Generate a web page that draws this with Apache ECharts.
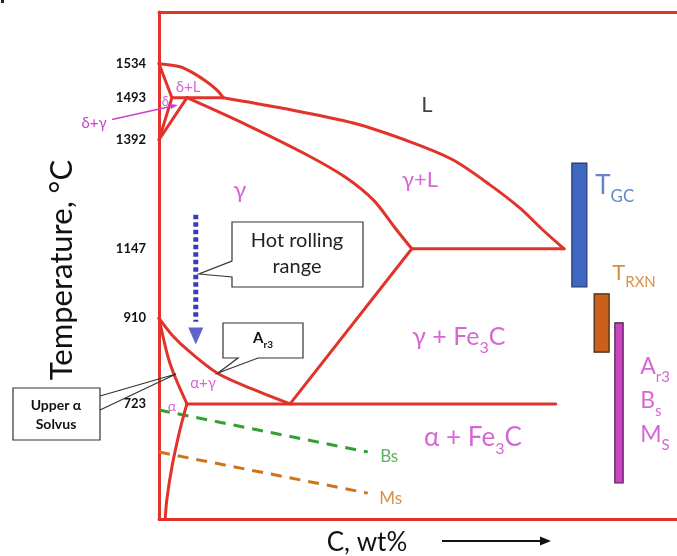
<!DOCTYPE html>
<html>
<head>
<meta charset="utf-8">
<script src="https://cdn.jsdelivr.net/npm/echarts@6/dist/echarts.min.js"></script>
<style>
html, body { margin: 0; padding: 0; background: #ffffff; }
#chart { width: 677px; height: 556px; }
</style>
</head>
<body>
<div id="chart"></div>
<script>
// Schematic iron–carbon diagram. Both axes use diagram units (0–100):
// x is carbon content, y is temperature, with the key isotherms labelled.
const tempLabels = ['1534', '1493', '1392', '1147', '910', '723'];
const tempLevels = [89.8, 83.1, 74.8, 53.3, 39.6, 22.7];

// Phase boundaries
const deltaLiquidus = [[0, 89.8], [4.05, 89.2], [6.56, 88.0], [9.27, 86.2], [11.2, 84.6], [12.4, 83.1]];
const deltaSolidus = [[0, 89.8], [2.5, 83.1]];
const peritecticLine = [[2.5, 83.1], [12.4, 83.1]];
const deltaSolvus = [[2.5, 83.1], [0, 74.8]];
const gammaDeltaBoundary = [[5.4, 83.1], [0, 74.8]];
const gammaLiquidus = [[12.4, 83.1], [23.4, 81.1], [37.5, 78.1], [49.0, 74.2], [56.8, 70.8], [63.9, 65.9], [69.7, 61.3], [74.1, 57.0], [78.2, 53.3]];
const gammaSolidus = [[5.4, 83.1], [17.0, 77.7], [28.6, 71.8], [36.0, 67.4], [41.5, 62.8], [45.5, 57.5], [48.8, 53.3]];
const eutecticLine = [[48.8, 53.3], [78.2, 53.3]];
const acmLine = [[48.8, 53.3], [25.3, 22.7]];
const a3Line = [[0, 39.6], [2.5, 36.3], [6.0, 32.9], [11.2, 28.8], [17.6, 25.8], [25.3, 22.7]];
const alphaBoundary = [[0, 39.6], [1.7, 32.1], [3.1, 28.0], [5.4, 22.7]];
const alphaSolvus = [[5.4, 22.7], [5.0, 21.3], [3.9, 17.0], [2.5, 10.3], [1.5, 3.7], [1.2, 0]];
const eutectoidLine = [[5.4, 22.7], [76.6, 22.7]];

// Transformation start lines on cooling
const bainiteStart = [[0, 21.5], [40.3, 13.2]];
const martensiteStart = [[0, 13.2], [40.3, 5.1]];

// Hot rolling temperature span
const rollingRange = [[7.1, 60.0], [7.1, 38.9]];
const rollingEnd = [7.1, 36.1];

// Processing temperature bands: [x0, x1] and [low, high]
const bandNames = ['TGC', 'TRXN', 'Ar3/Bs/Ms'];
const bandCols = [[79.7, 82.6], [84.0, 86.9], [88.0, 89.6]];
const bandSpans = [[45.8, 70.2], [32.9, 44.4], [7.1, 38.7]];

// Region and line labels
const regionText = ['L', 'δ+L', 'δ', 'γ', 'γ+L', '{m|γ + Fe}{sub|3}{m|C}', '{m|α + Fe}{sub|3}{m|C}', 'α+γ', 'α'];
const regionAt = [[51.7, 81.7], [5.6, 85.2], [1.2, 82.2], [15.6, 64.9], [50.4, 66.9], [57.9, 35.3], [60.6, 15.4], [8.5, 26.8], [2.5, 22.1]];
const lineText = ['Bs', 'Ms'];
const lineTextAt = [[42.7, 12.4], [42.5, 4.1]];
const bandText = ['{big|T}{sub|GC}', '{big|T}{sub|RXN}', '{big|A}{sub|r3}', '{big|B}{sub|s}', '{big|M}{sub|S}'];
const bandTextAt = [[84.2, 65.1], [87.5, 47.9], [92.9, 29.4], [92.9, 22.7], [92.9, 16.0]];

const RED = '#e2332b';
const MAGENTA = '#cc3fcc';
const BLUE = '#3f66c0';
const ORANGE = '#d0731c';
const GREEN = '#33a033';
const FONT = 'Lato, "Open Sans", "DejaVu Sans", sans-serif';

const chart = echarts.init(document.getElementById('chart'), null, { renderer: 'canvas' });

function boundary(points, smooth) {
  return {
    type: 'line', data: points, showSymbol: false, symbol: 'none', clip: false,
    smooth: smooth ? 0.3 : false, silent: true, z: 3,
    lineStyle: { color: RED, width: 3, cap: 'round', join: 'round' }
  };
}

function dashed(points, color) {
  return {
    type: 'line', data: points, showSymbol: false, symbol: 'none', clip: false, silent: true, z: 2,
    lineStyle: { color: color, width: 3, type: [11, 8] }
  };
}

// main glyphs sit at the top of a padded line box, subscripts at its bottom
const subRich = (color, big, sub) => ({
  big: { fontSize: big, color: color, fontFamily: FONT, verticalAlign: 'top', padding: [0, 0, Math.round(big * 0.25), 0] },
  m: { fontSize: big, color: color, fontFamily: FONT, verticalAlign: 'top', padding: [0, 0, Math.round(big * 0.22), 0] },
  sub: { fontSize: sub, color: color, fontFamily: FONT, verticalAlign: 'bottom' }
});

const regionStyle = [
  { size: 22, color: '#111111' },
  { size: 15, color: MAGENTA },
  { size: 13, color: MAGENTA },
  { size: 24, color: MAGENTA },
  { size: 22, color: MAGENTA },
  { size: 25, color: MAGENTA },
  { size: 26, color: MAGENTA },
  { size: 15, color: MAGENTA },
  { size: 14, color: MAGENTA }
];

const labelItems = [];
regionText.forEach((t, i) => {
  const st = regionStyle[i];
  labelItems.push({
    value: regionAt[i],
    label: {
      show: true, position: 'inside', formatter: t, color: st.color, fontSize: st.size,
      fontFamily: FONT, align: 'center', verticalAlign: 'middle',
      rich: subRich(st.color, st.size, Math.round(st.size * 0.62))
    }
  });
});
lineText.forEach((t, i) => {
  labelItems.push({
    value: lineTextAt[i],
    label: { show: true, position: 'inside', formatter: t, color: i === 0 ? GREEN : ORANGE, fontSize: 17, fontFamily: FONT, align: 'left', verticalAlign: 'middle' }
  });
});
const bandTextStyle = [
  subRich(BLUE, 26, 17), subRich(ORANGE, 22, 15),
  subRich(MAGENTA, 23, 15), subRich(MAGENTA, 23, 15), subRich(MAGENTA, 23, 15)
];
bandText.forEach((t, i) => {
  labelItems.push({
    value: bandTextAt[i],
    label: { show: true, position: 'inside', formatter: t, align: 'left', verticalAlign: 'middle', rich: bandTextStyle[i] }
  });
});

const bandFill = [BLUE, '#c9611c', '#c846c0'];
const bandStroke = ['#26386e', '#3a2616', '#4a1c4a'];

const option = {
  animation: false,
  backgroundColor: '#ffffff',
  grid: { left: 159, top: 12, right: 0, bottom: 37, containLabel: false, outerBoundsMode: 'none' },
  xAxis: [
    {
      type: 'value', min: 0, max: 100, position: 'bottom',
      axisLine: { show: true, onZero: false, lineStyle: { color: RED, width: 3 } },
      axisTick: { show: false }, axisLabel: { show: false }, splitLine: { show: false }
    },
    {
      type: 'value', min: 0, max: 100, position: 'top',
      axisLine: { show: true, onZero: false, lineStyle: { color: RED, width: 3 } },
      axisTick: { show: false }, axisLabel: { show: false }, splitLine: { show: false }
    }
  ],
  yAxis: {
    type: 'value', min: 0, max: 100,
    axisLine: { show: true, onZero: false, lineStyle: { color: RED, width: 3 } },
    axisTick: { show: false },
    splitLine: { show: false },
    axisLabel: {
      customValues: tempLevels,
      margin: 13,
      color: '#111111', fontSize: 13, fontWeight: 'bold', fontFamily: FONT,
      formatter: (v) => {
        const i = tempLevels.findIndex((t) => Math.abs(t - v) < 0.01);
        return i >= 0 ? tempLabels[i] : '';
      }
    }
  },
  series: [
    boundary(deltaLiquidus, true),
    boundary(deltaSolidus, false),
    boundary(peritecticLine, false),
    boundary(deltaSolvus, false),
    boundary(gammaDeltaBoundary, false),
    boundary(gammaLiquidus, true),
    boundary(gammaSolidus, true),
    boundary(eutecticLine, false),
    boundary(acmLine, false),
    boundary(a3Line, true),
    boundary(alphaBoundary, true),
    boundary(alphaSolvus, true),
    boundary(eutectoidLine, false),
    dashed(bainiteStart, GREEN),
    dashed(martensiteStart, ORANGE),
    {
      type: 'line', data: rollingRange, showSymbol: false, symbol: 'none', clip: false, silent: true, z: 4,
      lineStyle: { color: '#3b3bbf', width: 5, type: [4.4, 3.1], cap: 'butt' }
    },
    {
      type: 'scatter', data: [rollingEnd], symbol: 'triangle', symbolRotate: 180, symbolSize: [15, 17],
      itemStyle: { color: '#3b3bbf' }, silent: true, z: 4, clip: false
    },
    {
      type: 'custom', silent: true, z: 3, clip: false,
      encode: { x: [0, 1], y: [2, 3] },
      data: bandCols.map((c, i) => [c[0], c[1], bandSpans[i][0], bandSpans[i][1], i]),
      renderItem: (params, api) => {
        const i = api.value(4);
        const tl = api.coord([api.value(0), api.value(3)]);
        const br = api.coord([api.value(1), api.value(2)]);
        return {
          type: 'rect',
          shape: { x: tl[0], y: tl[1], width: br[0] - tl[0], height: br[1] - tl[1] },
          style: { fill: bandFill[i], stroke: bandStroke[i], lineWidth: 1.2 }
        };
      }
    },
    {
      type: 'scatter', data: labelItems, symbol: 'circle', symbolSize: 1, silent: true, z: 5, clip: false,
      itemStyle: { color: 'rgba(255,255,255,0)' },
      labelLayout: { hideOverlap: false }
    }
  ],
  graphic: [
    // axis titles
    {
      type: 'text', x: 62, y: 270, rotation: Math.PI / 2,
      style: { text: 'Temperature, °C', fill: '#111111', font: '31px ' + FONT, align: 'center', verticalAlign: 'middle' }
    },
    {
      type: 'text', x: 367, y: 543,
      style: { text: 'C, wt%', fill: '#111111', font: '26px ' + FONT, align: 'center', verticalAlign: 'middle' }
    },
    { type: 'line', shape: { x1: 442, y1: 541, x2: 543, y2: 541 }, style: { stroke: '#111111', lineWidth: 2 } },
    { type: 'polygon', shape: { points: [[540, 536.5], [551, 541], [540, 545.5]] }, style: { fill: '#111111' } },

    // δ+γ pointer
    {
      type: 'text', x: 94, y: 123,
      style: { text: 'δ+γ', fill: MAGENTA, font: '15px ' + FONT, align: 'center', verticalAlign: 'middle' }
    },
    { type: 'line', z: 10, shape: { x1: 112, y1: 119.5, x2: 175, y2: 105.5 }, style: { stroke: MAGENTA, lineWidth: 1.4 } },
    { type: 'polygon', z: 10, shape: { points: [[170, 104], [178, 105], [171, 109]] }, style: { fill: MAGENTA } },

    // Hot rolling callout
    {
      type: 'polygon', z: 6,
      shape: { points: [[232, 222], [363, 222], [363, 287], [232, 287], [232, 277], [199, 274], [232, 261]] },
      style: { fill: '#ffffff', stroke: '#333333', lineWidth: 1.2 }
    },
    {
      type: 'text', z: 7, x: 297, y: 241,
      style: { text: 'Hot rolling', fill: '#222222', font: '20px ' + FONT, align: 'center', verticalAlign: 'middle' }
    },
    {
      type: 'text', z: 7, x: 297, y: 267,
      style: { text: 'range', fill: '#222222', font: '20px ' + FONT, align: 'center', verticalAlign: 'middle' }
    },

    // Ar3 callout
    {
      type: 'polygon', z: 6,
      shape: { points: [[223, 323], [303, 323], [303, 358], [258, 358], [218, 373], [238, 358], [223, 358]] },
      style: { fill: '#ffffff', stroke: '#333333', lineWidth: 1.2 }
    },
    {
      type: 'text', z: 7, x: 263, y: 340,
      style: {
        text: '{m|A}{s|r3}', align: 'center', verticalAlign: 'middle',
        rich: {
          m: { fontSize: 15, fontWeight: 'bold', fill: '#111111', fontFamily: FONT, verticalAlign: 'top', padding: [0, 0, 4, 0] },
          s: { fontSize: 10, fontWeight: 'bold', fill: '#111111', fontFamily: FONT, verticalAlign: 'bottom' }
        }
      }
    },

    // Upper α solvus callout
    {
      type: 'polyline', z: 6, shape: { points: [[100, 396], [176, 374], [100, 410]] },
      style: { stroke: '#333333', lineWidth: 1.2, fill: null }
    },
    {
      type: 'rect', z: 6, shape: { x: 13, y: 388, width: 87, height: 52 },
      style: { fill: '#ffffff', stroke: '#333333', lineWidth: 1.2 }
    },
    {
      type: 'text', z: 7, x: 56, y: 405,
      style: { text: 'Upper α', fill: '#111111', font: 'bold 14px ' + FONT, align: 'center', verticalAlign: 'middle' }
    },
    {
      type: 'text', z: 7, x: 56, y: 424,
      style: { text: 'Solvus', fill: '#111111', font: 'bold 14px ' + FONT, align: 'center', verticalAlign: 'middle' }
    },
    { type: 'rect', shape: { x: 1, y: 0, width: 3, height: 3 }, style: { fill: '#222222' } }
  ]
};

chart.setOption(option);
</script>
</body>
</html>
